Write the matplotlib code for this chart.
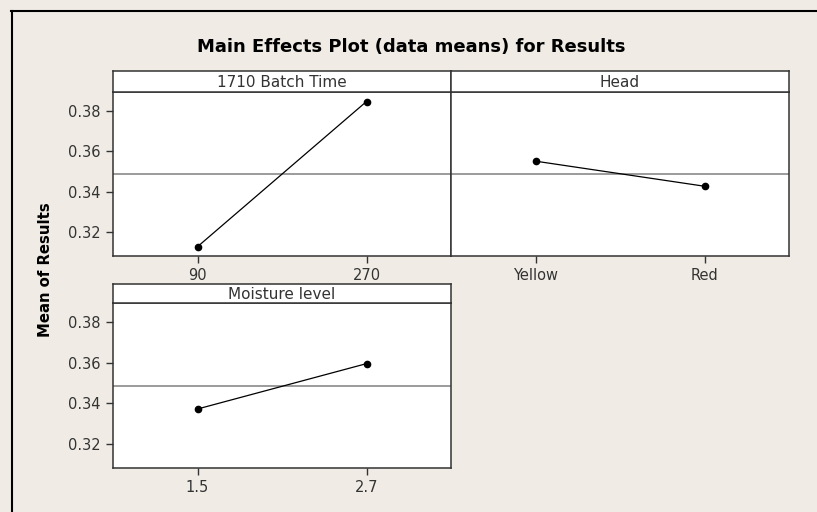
import matplotlib.pyplot as plt
from matplotlib.lines import Line2D

# main effects: factor names, level labels and mean response per level
factors = ['1710 Batch Time', 'Head', 'Moisture level']
levels = [['90', '270'], ['Yellow', 'Red'], ['1.5', '2.7']]
level_means = [[0.3128, 0.3846], [0.3551, 0.3427], [0.3372, 0.3595]]
grand_mean = 0.3487
y_ticks = [0.32, 0.34, 0.36, 0.38]

W, H = 817, 512
BG = '#f0ece5'
FRAME = '#333333'
TXT = '#333333'

fig = plt.figure(figsize=(W / 100, H / 100), dpi=100, facecolor=BG)


def px_axes(x0, y0, x1, y1):
    # axes placed by pixel box (top-left origin)
    return fig.add_axes([x0 / W, 1 - y1 / H, (x1 - x0) / W, (y1 - y0) / H])


# panel boxes: (left, strip top, plot top, right, bottom)
boxes = [(113, 71, 92, 451, 256),
         (451, 71, 92, 789, 256),
         (113, 284, 303, 451, 468)]

for i, (x0, ys, yp, x1, yb) in enumerate(boxes):
    ax = px_axes(x0, yp, x1, yb)
    ax.set_facecolor('white')
    ax.axhline(grand_mean, color='#808080', lw=1.1, zorder=1)
    ax.plot([0, 1], level_means[i], color='black', lw=0.9,
            marker='o', ms=4.5, zorder=3)
    ax.set_xlim(-0.5, 1.5)
    ax.set_ylim(0.3082, 0.3893)
    ax.set_xticks([0, 1])
    ax.set_xticklabels(levels[i])
    ax.set_yticks(y_ticks)
    ax.set_yticklabels([f'{v:.2f}' for v in y_ticks])
    ax.tick_params(direction='out', length=5, width=1, color=FRAME,
                   labelcolor=TXT, labelsize=10.5, pad=4)
    if x0 != 113:
        ax.tick_params(axis='y', left=False, labelleft=False)
    for s in ax.spines.values():
        s.set_color(FRAME)
        s.set_linewidth(1.1)

    # strip with the factor name
    st = px_axes(x0, ys, x1, yp)
    st.set_facecolor('white')
    st.set_xticks([])
    st.set_yticks([])
    for s in st.spines.values():
        s.set_color(FRAME)
        s.set_linewidth(1.1)
    st.text(0.5, 0.45, factors[i], ha='center', va='center',
            fontsize=11, color=TXT, transform=st.transAxes)

fig.text(411 / W, 1 - 47 / H, 'Main Effects Plot (data means) for Results',
         ha='center', va='center', fontsize=13, fontweight='bold')
fig.text(46 / W, 1 - 270 / H, 'Mean of Results', rotation=90,
         ha='center', va='center', fontsize=10.7, fontweight='bold')

# outer border (top and left edges visible)
fig.add_artist(Line2D([11 / W, 1.0], [1 - 10.5 / H] * 2, color='black', lw=1.5))
fig.add_artist(Line2D([11.5 / W] * 2, [0.0, 1 - 10.5 / H], color='black', lw=1.5))

fig.savefig('out.png', dpi=100, facecolor=BG)
